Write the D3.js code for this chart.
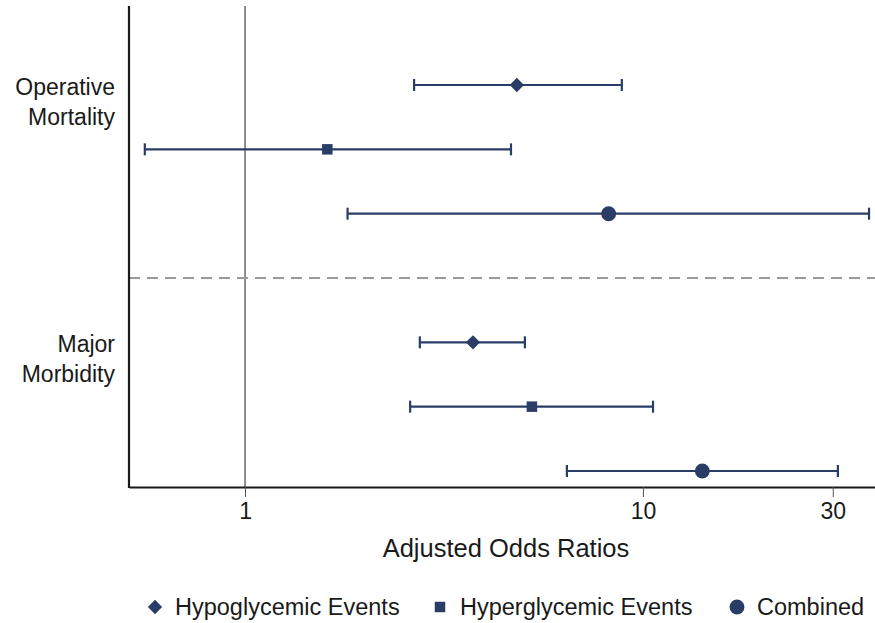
<!DOCTYPE html>
<html lang="en">
<head>
<meta charset="utf-8">
<title>Adjusted Odds Ratios</title>
<style>
  body { margin: 0; background: #fff; }
  text { font-family: "Liberation Sans", Arial, sans-serif; fill: #1a1a1a; }
</style>
</head>
<body>
<script src="https://cdn.jsdelivr.net/npm/d3@7/dist/d3.min.js"></script>
<script>
// outcome groups and event types
var outcomes = ["Operative Mortality", "Major Morbidity"];
var eventTypes = ["Hypoglycemic Events", "Hyperglycemic Events", "Combined"];

// odds ratios, rows follow eventTypes within each outcome
var mortalityOR = [4.82, 1.61, 8.2];
var mortalityLow = [2.66, 0.56, 1.81];
var mortalityHigh = [8.85, 4.66, 37.0];

var morbidityOR = [3.74, 5.26, 14.1];
var morbidityLow = [2.75, 2.6, 6.44];
var morbidityHigh = [5.05, 10.6, 30.9];

var tickValues = [1, 10, 30];

function main() {
    var width = 875, height = 623;
    var color = "#2a3d66";

    var svg = d3.select("body").append("svg")
        .attr("width", width)
        .attr("height", height);

    var x = d3.scaleLog()
        .domain([0.511, 38.3])
        .range([129, 875]);

    // 7 row slots, slot 3 is the separator
    var y = d3.scaleLinear()
        .domain([0, 6])
        .range([85, 471]);

    var rows = [];
    eventTypes.forEach(function (t, i) {
        rows.push({type: i, slot: i, or: mortalityOR[i], lo: mortalityLow[i], hi: mortalityHigh[i]});
    });
    eventTypes.forEach(function (t, i) {
        rows.push({type: i, slot: i + 4, or: morbidityOR[i], lo: morbidityLow[i], hi: morbidityHigh[i]});
    });

    // reference line at OR = 1
    svg.append("line")
        .attr("x1", x(1)).attr("x2", x(1))
        .attr("y1", 6).attr("y2", 487)
        .attr("stroke", "#444").attr("stroke-width", 1.2);

    // separator
    svg.append("line")
        .attr("x1", 129).attr("x2", 875)
        .attr("y1", y(3)).attr("y2", y(3))
        .attr("stroke", "#9a9a9a").attr("stroke-width", 2)
        .attr("stroke-dasharray", "11,7");

    // x axis
    var xAxis = d3.axisBottom(x)
        .tickValues(tickValues)
        .tickFormat(d3.format("d"))
        .tickSize(10)
        .tickSizeOuter(0);
    var gx = svg.append("g")
        .attr("transform", "translate(0,487)")
        .call(xAxis);
    gx.select(".domain").attr("stroke", "#1a1a1a").attr("stroke-width", 2.2);
    gx.selectAll(".tick line").attr("stroke", "#555").attr("stroke-width", 1);
    gx.selectAll(".tick text")
        .attr("y", 16)
        .attr("font-size", 23)
        .style("font-family", "Liberation Sans, Arial, sans-serif")
        .attr("fill", "#1a1a1a");

    // left axis line
    svg.append("line")
        .attr("x1", 129).attr("x2", 129)
        .attr("y1", 6).attr("y2", 488)
        .attr("stroke", "#1a1a1a").attr("stroke-width", 2.2);

    // outcome labels
    var labelLines = [["Operative", "Mortality"], ["Major", "Morbidity"]];
    var labelBase = [95, 352];
    labelLines.forEach(function (lines, k) {
        svg.append("text")
            .attr("x", 115)
            .attr("y", labelBase[k])
            .attr("text-anchor", "end")
            .attr("font-size", 23)
            .selectAll("tspan")
            .data(lines)
            .join("tspan")
            .attr("x", 115)
            .attr("dy", function (d, i) { return i === 0 ? 0 : 30; })
            .text(function (d) { return d; });
    });

    // error bars
    var g = svg.append("g");
    g.selectAll(".ci")
        .data(rows)
        .join("line")
        .attr("x1", function (d) { return x(d.lo); })
        .attr("x2", function (d) { return x(d.hi); })
        .attr("y1", function (d) { return y(d.slot); })
        .attr("y2", function (d) { return y(d.slot); })
        .attr("stroke", color).attr("stroke-width", 2.2);
    g.selectAll(".capL")
        .data(rows)
        .join("line")
        .attr("x1", function (d) { return x(d.lo); })
        .attr("x2", function (d) { return x(d.lo); })
        .attr("y1", function (d) { return y(d.slot) - 6; })
        .attr("y2", function (d) { return y(d.slot) + 6; })
        .attr("stroke", color).attr("stroke-width", 2.2);
    g.selectAll(".capR")
        .data(rows)
        .join("line")
        .attr("x1", function (d) { return x(d.hi); })
        .attr("x2", function (d) { return x(d.hi); })
        .attr("y1", function (d) { return y(d.slot) - 6; })
        .attr("y2", function (d) { return y(d.slot) + 6; })
        .attr("stroke", color).attr("stroke-width", 2.2);

    var symbols = [
        d3.symbol().type(d3.symbolDiamond2).size(130),
        d3.symbol().type(d3.symbolSquare).size(110),
        d3.symbol().type(d3.symbolCircle).size(175)
    ];
    g.selectAll(".pt")
        .data(rows)
        .join("path")
        .attr("transform", function (d) { return "translate(" + x(d.or) + "," + y(d.slot) + ")"; })
        .attr("d", function (d) { return symbols[d.type](); })
        .attr("fill", color);

    // axis title
    svg.append("text")
        .attr("x", 506)
        .attr("y", 557)
        .attr("text-anchor", "middle")
        .attr("font-size", 25.5)
        .text("Adjusted Odds Ratios");

    // legend
    var legendX = [155, 440, 737];
    var leg = svg.append("g").selectAll("g")
        .data(eventTypes)
        .join("g")
        .attr("transform", function (d, i) { return "translate(" + legendX[i] + ",607)"; });
    leg.append("path")
        .attr("d", function (d, i) { return symbols[i](); })
        .attr("fill", color);
    leg.append("text")
        .attr("x", 20)
        .attr("y", 8)
        .attr("font-size", 23.5)
        .text(function (d) { return d; });
}

window.onload = function () {
    main();
};
</script>
</body>
</html>
